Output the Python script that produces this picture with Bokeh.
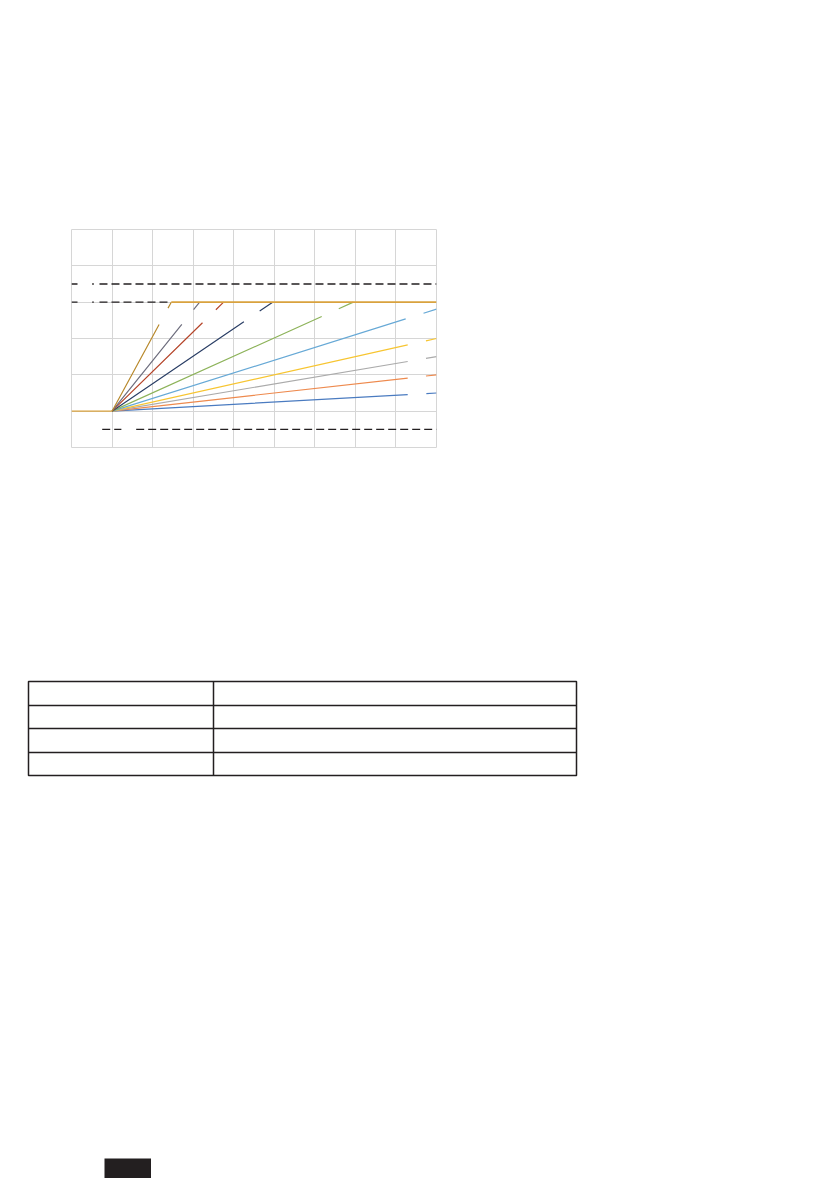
import numpy as np
from bokeh.plotting import figure
from bokeh.layouts import column, row
from bokeh.models import Spacer, FixedTicker
from bokeh.embed import file_html
from bokeh.resources import INLINE

# ---------------- data ----------------
x_ticks = [0, 1, 2, 3, 4, 5, 6, 7, 8, 9]
y_ticks = [-1, 0, 1, 2, 3, 4, 5]
ramp_start = 1.0          # time where all ramps begin
plateau = 3.0             # level the ramps saturate at
# time each ramp needs to reach the plateau
ramp_times = [1.46, 2.16, 2.75, 3.96, 5.95, 8.55, 12.0, 16.0, 24.0, 48.0]
ramp_colors = ["#B8892C", "#6E6E7E", "#B5452A", "#2B3F66", "#8DB35A",
               "#67A9D6", "#F7C531", "#ABABAB", "#EE8A4E", "#4A7BC0"]
# label gaps (erased labels) on each ramp, in time units
gap_start = [2.16, 2.72, 3.23, 4.25, 6.17, 8.24, 8.29, 8.29, 8.29, 8.29]
gap_end = [2.38, 3.01, 3.56, 4.64, 6.59, 8.68, 8.74, 8.74, 8.74, 8.75]
plateau_color = "#D9A23E"
# dashed reference levels and their visible pieces
ref_levels = [3.5, 3.0, -0.5]
ref_pieces = [
    [(0.0, 0.148), (0.51, 0.55), (0.69, 9.0)],
    [(0.0, 0.148), (0.51, 0.55), (0.69, 2.46)],
    [(0.757, 1.23), (1.595, 9.0)],
]
# table structure: column widths (px) and row count
table_col_widths = [184.7, 363.6]
table_rows = 4

# ---------------- chart ----------------
X0, X1 = x_ticks[0], x_ticks[-1]
chart = figure(width=369, height=222, x_range=(X0, X1), y_range=(y_ticks[0], y_ticks[-1]),
               output_backend="svg", toolbar_location=None,
               min_border_left=2, min_border_right=2, min_border_top=2, min_border_bottom=2)
chart.xaxis.visible = False
chart.yaxis.visible = False
chart.xgrid.ticker = FixedTicker(ticks=x_ticks)
chart.ygrid.ticker = FixedTicker(ticks=y_ticks)
for g in (chart.xgrid, chart.ygrid):
    g.grid_line_color = "#d6d6d6"
    g.grid_line_width = 1
chart.outline_line_color = "#d6d6d6"
chart.background_fill_color = "white"
chart.border_fill_color = "white"

# dashed reference lines
for lvl, pieces in zip(ref_levels, ref_pieces):
    for a, b in pieces:
        chart.line([a, b], [lvl, lvl], line_color="#231f20", line_width=1.3, line_dash="8 4")

# ramps (drawn from the shallowest to the steepest)
for T, c, g0, g1 in reversed(list(zip(ramp_times, ramp_colors, gap_start, gap_end))):
    slope = plateau / T
    x_end = min(ramp_start + T, X1)
    xs = [ramp_start, g0, np.nan, g1, x_end]
    ys = [0.0, slope * (g0 - ramp_start), np.nan, slope * (g1 - ramp_start),
          slope * (x_end - ramp_start)]
    chart.line(xs, ys, line_color=c, line_width=1.2)

# flat start and plateau
chart.line([X0, ramp_start], [0, 0], line_color=plateau_color, line_width=1.4)
chart.line([ramp_start + ramp_times[0], X1], [plateau, plateau], line_color=plateau_color, line_width=1.6)

# ---------------- table ----------------
tw = sum(table_col_widths)
table = figure(width=int(round(tw)) + 4, height=98, x_range=(0, tw), y_range=(0, table_rows),
               output_backend="svg", toolbar_location=None,
               min_border_left=2, min_border_right=2, min_border_top=2, min_border_bottom=2)
table.xaxis.visible = False
table.yaxis.visible = False
table.xgrid.ticker = FixedTicker(ticks=[table_col_widths[0]])
table.ygrid.ticker = FixedTicker(ticks=list(range(1, table_rows)))
for g in (table.xgrid, table.ygrid):
    g.grid_line_color = "#231f20"
    g.grid_line_width = 1.5
table.outline_line_color = "#231f20"
table.outline_line_width = 1.5

# ---------------- footer tab ----------------
tab = figure(width=47, height=20, output_backend="svg", toolbar_location=None,
             min_border=0, x_range=(0, 1), y_range=(0, 1))
tab.axis.visible = False
tab.grid.visible = False
tab.outline_line_color = None
tab.background_fill_color = "#231f20"
tab.border_fill_color = "#231f20"

layout = column(
    Spacer(width=10, height=227),
    row(Spacer(width=69, height=222), chart),
    Spacer(width=10, height=230),
    row(Spacer(width=26, height=98), table),
    Spacer(width=10, height=381),
    row(Spacer(width=104, height=20), tab),
)

open("out.html", "w").write(file_html(layout, INLINE))
